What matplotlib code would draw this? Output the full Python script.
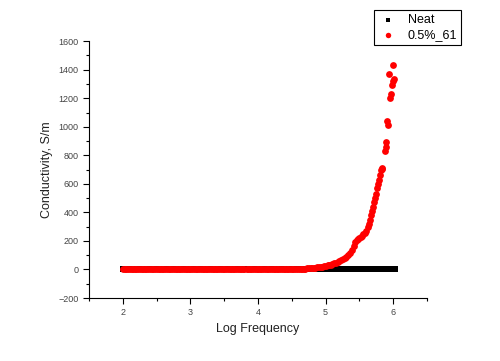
import matplotlib
matplotlib.use("Agg")
import matplotlib.pyplot as plt

plt.rcParams['font.family'] = ['Liberation Sans', 'DejaVu Sans']

# Neat sample: flat at zero over whole range
neat_x = [2.00, 2.05, 2.10, 2.15, 2.20, 2.25, 2.30, 2.35, 2.40, 2.45, 2.50, 2.55,
          2.60, 2.65, 2.70, 2.75, 2.80, 2.85, 2.90, 2.95, 3.00, 3.05, 3.10, 3.15,
          3.20, 3.25, 3.30, 3.35, 3.40, 3.45, 3.50, 3.55, 3.60, 3.65, 3.70, 3.75,
          3.80, 3.85, 3.90, 3.95, 4.00, 4.05, 4.10, 4.15, 4.20, 4.25, 4.30, 4.35,
          4.40, 4.45, 4.50, 4.55, 4.60, 4.65, 4.70, 4.75, 4.80, 4.85, 4.90, 4.95,
          5.00, 5.05, 5.10, 5.15, 5.20, 5.25, 5.30, 5.35, 5.40, 5.45, 5.50, 5.55,
          5.60, 5.65, 5.70, 5.75, 5.80, 5.85, 5.90, 5.95, 6.00, 6.03]
neat_y = [0] * len(neat_x)

# 0.5%_61 sample
flat_x = [2.00, 2.03, 2.05, 2.08, 2.10, 2.13, 2.15, 2.18, 2.20, 2.23, 2.25, 2.28,
          2.30, 2.33, 2.35, 2.38, 2.40, 2.43, 2.45, 2.48, 2.50, 2.53, 2.55, 2.58,
          2.60, 2.63, 2.65, 2.68, 2.70, 2.73, 2.75, 2.78, 2.80, 2.83, 2.85, 2.88,
          2.90, 2.93, 2.95, 2.98, 3.00, 3.03, 3.05, 3.08, 3.10, 3.13, 3.15, 3.18,
          3.20, 3.23, 3.25, 3.28, 3.30, 3.33, 3.35, 3.38, 3.40, 3.43, 3.45, 3.48,
          3.50, 3.53, 3.55, 3.58, 3.60, 3.63, 3.65, 3.68, 3.70, 3.73, 3.75, 3.78,
          3.80, 3.83, 3.85, 3.88, 3.90, 3.93, 3.95, 3.98, 4.00, 4.03, 4.05, 4.08,
          4.10, 4.13, 4.15, 4.18, 4.20, 4.23, 4.25, 4.28, 4.30, 4.33, 4.35, 4.38,
          4.40, 4.43, 4.45, 4.48, 4.50]
flat_y = [0] * len(flat_x)
rise_x = [4.52, 4.55, 4.58, 4.60, 4.63, 4.65, 4.68, 4.70, 4.73, 4.75, 4.78, 4.80,
          4.83, 4.85, 4.88, 4.90, 4.93, 4.95, 4.98, 5.00, 5.03, 5.05, 5.08, 5.10,
          5.13, 5.15, 5.18, 5.20, 5.23, 5.25, 5.28, 5.30, 5.33, 5.36, 5.39, 5.42,
          5.44, 5.46, 5.48, 5.50, 5.52, 5.54, 5.56, 5.58, 5.60, 5.62, 5.64, 5.66,
          5.67, 5.68, 5.70, 5.72, 5.73, 5.74, 5.76, 5.78, 5.79, 5.80, 5.82, 5.83,
          5.84, 5.88, 5.89, 5.90, 5.91, 5.92, 5.94, 5.96, 5.97, 5.98, 6.00, 6.01, 6.00]
rise_y = [1, 2, 2, 3, 3, 4, 5, 6, 7, 8, 9, 10,
          11, 13, 14, 16, 18, 20, 22, 25, 28, 31, 34, 38,
          42, 46, 50, 56, 63, 70, 80, 90, 100, 118, 138, 165,
          195, 205, 215, 222, 230, 238, 248, 258, 270, 295, 320, 350,
          385, 410, 440, 470, 500, 530, 570, 600, 630, 660, 700, 705,
          712, 830, 860, 895, 1040, 1010, 1370, 1200, 1230, 1290, 1320, 1335, 1435]
red_x = flat_x + rise_x
red_y = flat_y + rise_y

x_ticks = [2, 3, 4, 5, 6]
y_ticks = [-200, 0, 200, 400, 600, 800, 1000, 1200, 1400, 1600]


def main():
  fig = plt.figure(figsize=(5.0, 3.61), dpi=100)
  ax = fig.add_axes([0.178, 0.1745, 0.676, 0.7115])

  ax.scatter(neat_x, neat_y, marker='s', s=16, color='black', linewidths=0,
             label='Neat', zorder=2)
  ax.scatter(red_x, red_y, marker='o', s=24, color='#ff0000', linewidths=0,
             label='0.5%_61', zorder=3)

  ax.set_xlim(1.5, 6.5)
  ax.set_ylim(-200, 1600)
  ax.set_xticks(x_ticks)
  ax.set_yticks(y_ticks)
  ax.set_xticks([1.5, 2.5, 3.5, 4.5, 5.5, 6.5], minor=True)
  ax.set_yticks(list(range(-100, 1600, 200)), minor=True)
  ax.tick_params(which='major', direction='out', length=4, width=0.8,
                 labelsize=6.5, labelcolor='#444444')
  ax.tick_params(which='minor', direction='out', length=2.5, width=0.8)

  for side in ['top', 'right']:
    ax.spines[side].set_visible(False)

  ax.set_xlabel("Log Frequency", fontsize=9, color='#222222')
  ax.set_ylabel("Conductivity, S/m", fontsize=9, color='#222222')

  leg = ax.legend(loc='upper right', bbox_to_anchor=(0.922, 0.972),
                  bbox_transform=fig.transFigure, fontsize=9, fancybox=False,
                  edgecolor='black', framealpha=1, borderpad=0.3,
                  borderaxespad=0, handletextpad=0.8, labelspacing=0.25,
                  handlelength=1.6, markerscale=0.8)
  leg.get_frame().set_linewidth(0.8)

  fig.savefig("out.png", dpi=100)


if __name__ == "__main__":
  main()
